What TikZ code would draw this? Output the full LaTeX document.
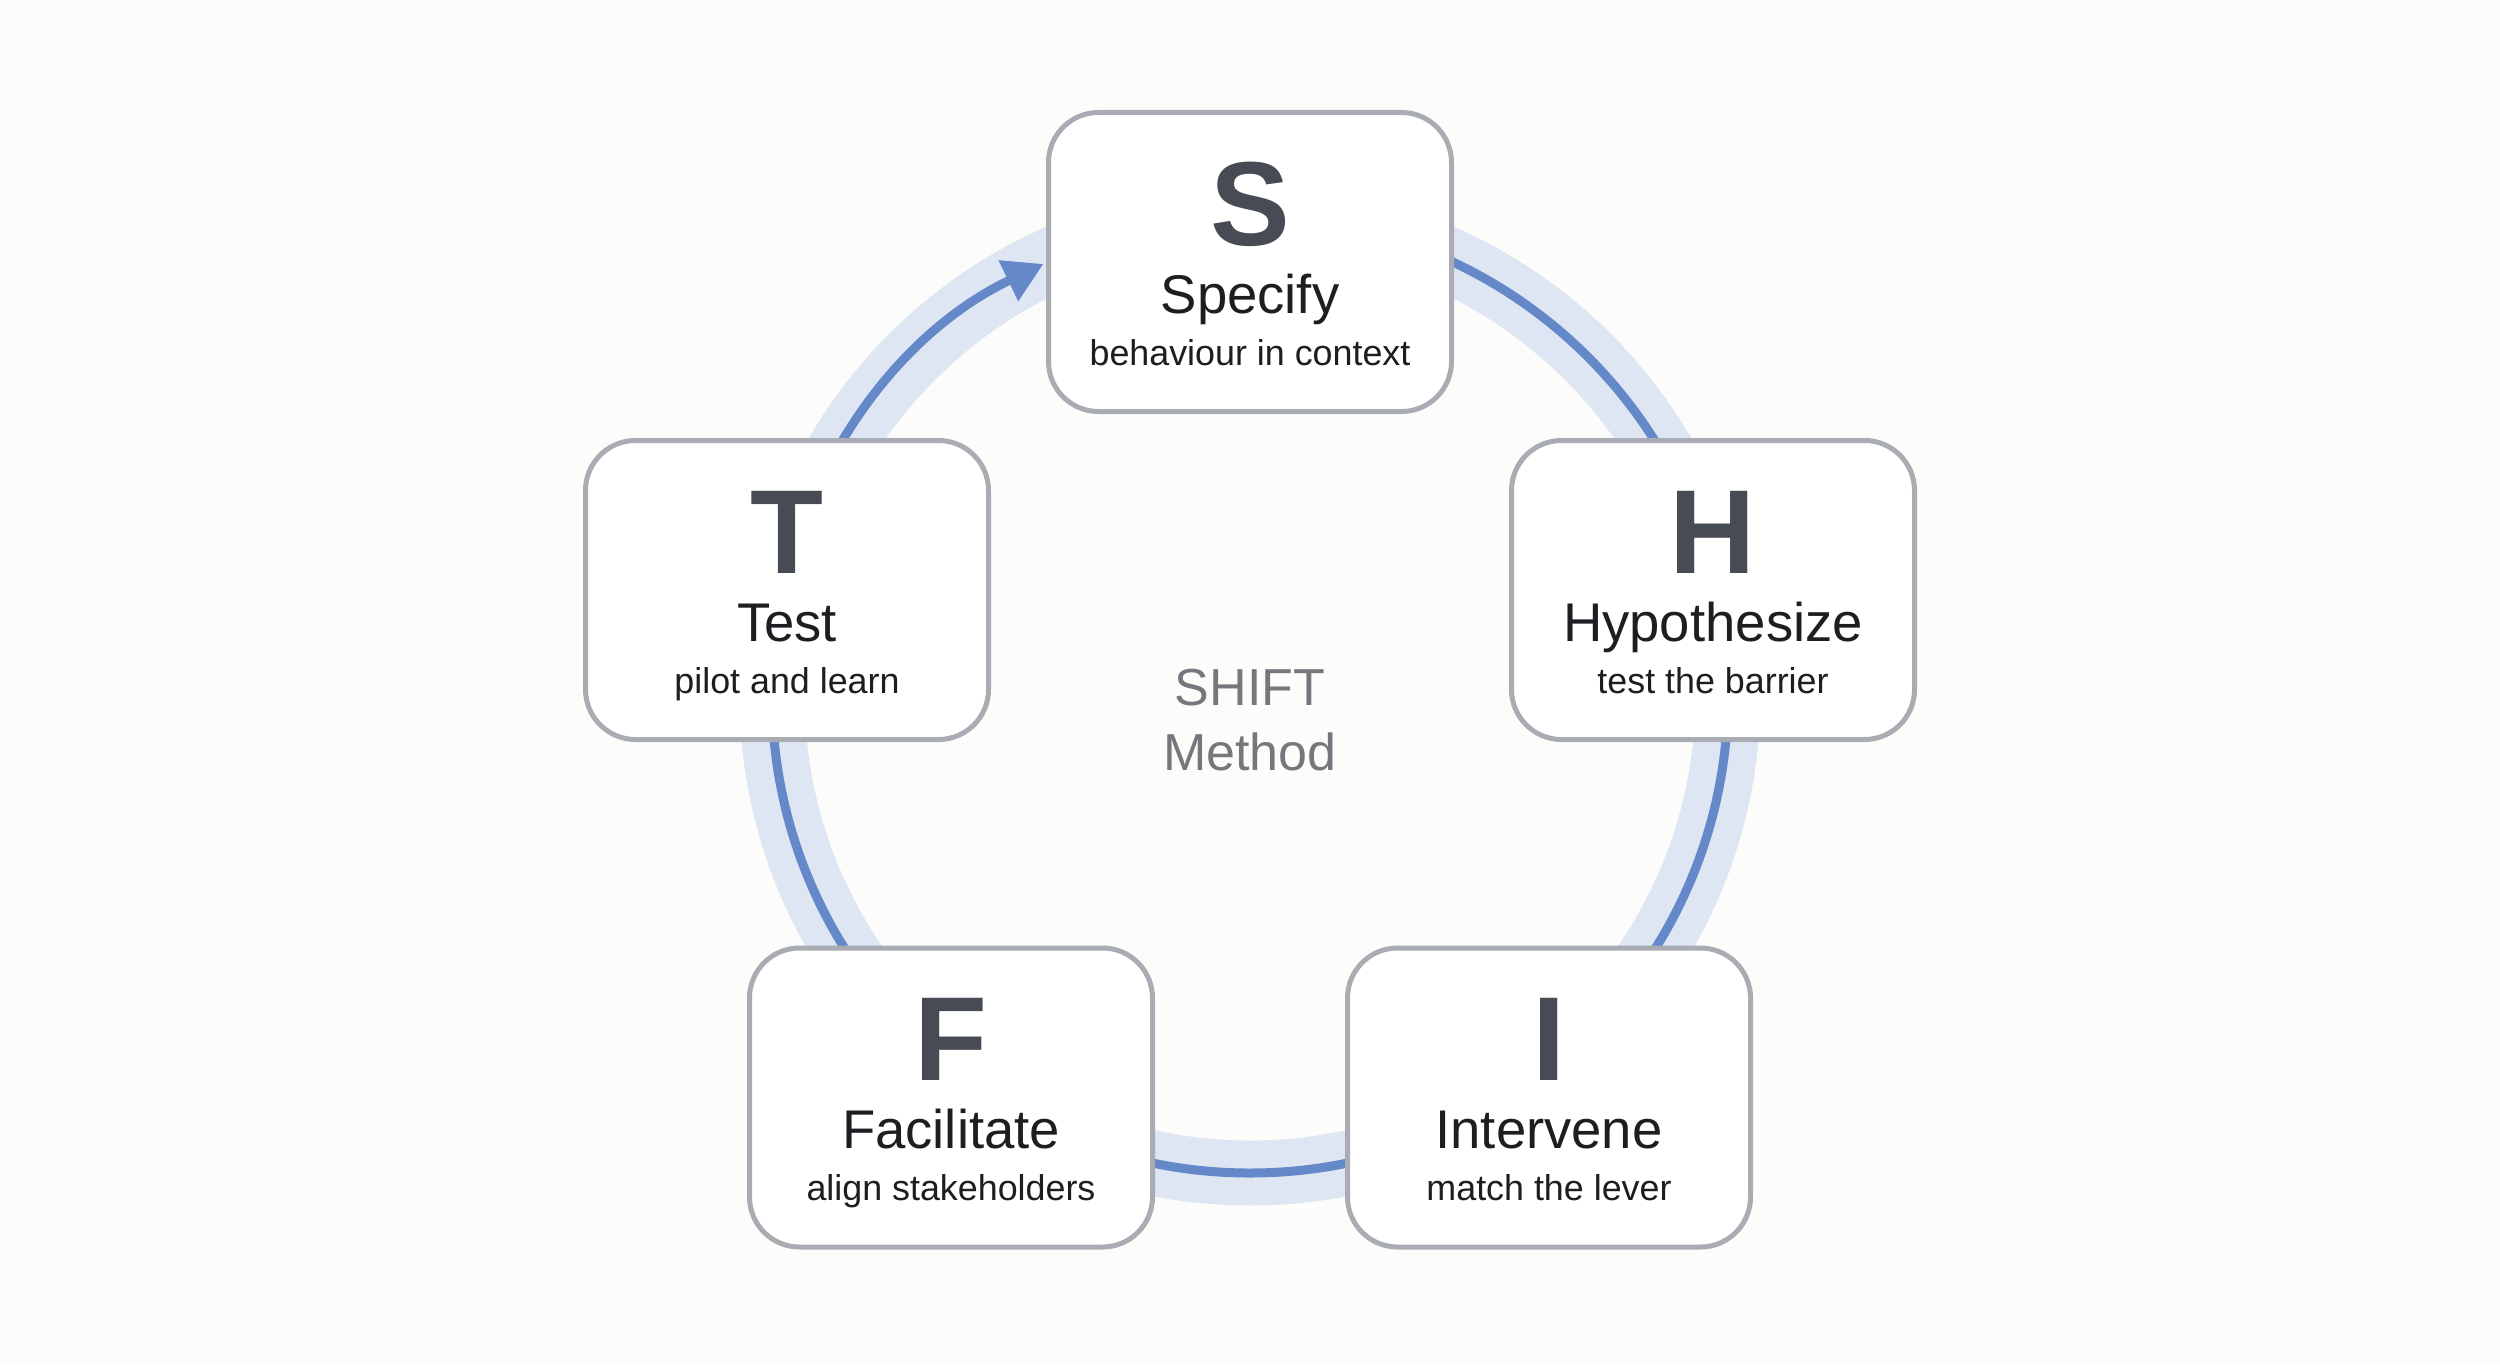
\documentclass[tikz,border=0pt]{standalone}
\usepackage{fontspec}
\setmainfont{Liberation Sans}
\usepackage{xcolor}
\usetikzlibrary{arrows.meta}

\definecolor{paper}{HTML}{FCFCFA}
\definecolor{ringband}{HTML}{DFE6F3}
\definecolor{ringblue}{HTML}{6588C8}
\definecolor{boxgray}{HTML}{A9ADB3}
\definecolor{lettergray}{HTML}{474C54}
\definecolor{inkgray}{HTML}{1C1E22}
\definecolor{centergray}{HTML}{74777C}

\tikzset{
  stage/.style={draw=boxgray, line width=0.05cm, fill=white, rounded corners=0.5cm,
    minimum width=4.03cm, minimum height=2.99cm, inner sep=0pt},
  stageletter/.style={anchor=base, inner sep=0pt, text=lettergray,
    font=\bfseries\fontsize{34}{40}\selectfont},
  stagetitle/.style={anchor=base, inner sep=0pt, text=inkgray,
    font=\fontsize{15.5}{18}\selectfont},
  stagesub/.style={anchor=base, inner sep=0pt, text=inkgray,
    font=\fontsize{10.2}{12}\selectfont},
  centerlabel/.style={anchor=base, inner sep=0pt, text=centergray,
    font=\fontsize{14.8}{18}\selectfont},
}

\begin{document}
\begin{tikzpicture}
    \fill[paper] (0,0) rectangle (25,13.64);
    \useasboundingbox (0,0) rectangle (25,13.64);
    \coordinate (c) at (12.5,6.69);
    % ring
    \draw[ringband, line width=0.65cm] (c) circle[radius=4.78];
    \draw[ringblue, line width=0.09cm, -{Triangle[length=0.39cm,width=0.43cm]}]
        ([shift={(90:4.78)}]c) arc[start angle=90, end angle=-244.4, radius=4.78];
    % stages
    \node[stage] (s) at (12.50,11.02) {};
    \node[stage] (h) at (17.13,7.74) {};
    \node[stage] (i) at (15.49,2.665) {};
    \node[stage] (f) at (9.51,2.665) {};
    \node[stage] (t) at (7.87,7.74) {};
    \node[stageletter] (sL) at ([yshift=0.17cm]s.center) {S};
    \node[stagetitle] (sT) at ([yshift=-0.51cm]s.center) {Specify};
    \node[stagesub] (sD) at ([yshift=-1.03cm]s.center) {behaviour in context};
    \node[stageletter] (hL) at ([yshift=0.17cm]h.center) {H};
    \node[stagetitle] (hT) at ([yshift=-0.51cm]h.center) {Hypothesize};
    \node[stagesub] (hD) at ([yshift=-1.03cm]h.center) {test the barrier};
    \node[stageletter] (iL) at ([yshift=0.17cm]i.center) {I};
    \node[stagetitle] (iT) at ([yshift=-0.51cm]i.center) {Intervene};
    \node[stagesub] (iD) at ([yshift=-1.03cm]i.center) {match the lever};
    \node[stageletter] (fL) at ([yshift=0.17cm]f.center) {F};
    \node[stagetitle] (fT) at ([yshift=-0.51cm]f.center) {Facilitate};
    \node[stagesub] (fD) at ([yshift=-1.03cm]f.center) {align stakeholders};
    \node[stageletter] (tL) at ([yshift=0.17cm]t.center) {T};
    \node[stagetitle] (tT) at ([yshift=-0.51cm]t.center) {Test};
    \node[stagesub] (tD) at ([yshift=-1.03cm]t.center) {pilot and learn};
    % centre
    \node[centerlabel] (m1) at (12.5,6.59) {SHIFT};
    \node[centerlabel] (m2) at (12.5,5.94) {Method};
\end{tikzpicture}
\end{document}
